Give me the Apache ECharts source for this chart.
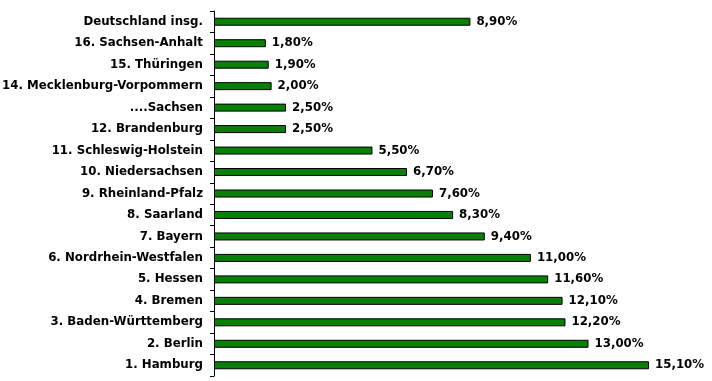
<!DOCTYPE html>
<html><head><meta charset="utf-8">
<script src="https://cdn.jsdelivr.net/npm/echarts@6/dist/echarts.min.js"></script>
<style>html,body{margin:0;padding:0;background:#fff}#c{width:712px;height:381px}</style>
</head><body><div id="c"></div>
<script>
const categories = ["Deutschland insg.","16. Sachsen-Anhalt","15. Thüringen","14. Mecklenburg-Vorpommern","....Sachsen","12. Brandenburg","11. Schleswig-Holstein","10. Niedersachsen","9. Rheinland-Pfalz","8. Saarland","7. Bayern","6. Nordrhein-Westfalen","5. Hessen","4. Bremen","3. Baden-Württemberg","2. Berlin","1. Hamburg"];
const values = [8.9,1.8,1.9,2.0,2.5,2.5,5.5,6.7,7.6,8.3,9.4,11.0,11.6,12.1,12.2,13.0,15.1];
const chart = echarts.init(document.getElementById('c'), null, {renderer:'canvas'});
const font = "DejaVu Sans";
chart.setOption({
  animation:false,
  grid:{left:214,top:11,bottom:5,width:435,containLabel:false,outerBoundsMode:'none'},
  xAxis:{type:'value',min:0,max:15.1,show:false},
  yAxis:{type:'category',data:categories,inverse:true,
    axisLine:{show:true,lineStyle:{color:'#000',width:1}},
    axisTick:{show:true,length:4,lineStyle:{color:'#000'}},
    axisLabel:{color:'#000',fontFamily:font,fontWeight:'bold',fontSize:11.8,margin:11}},
  series:[{type:'bar',data:values,barWidth:8,
    itemStyle:{color:'#088008',borderColor:'#000',borderWidth:1},
    label:{show:true,position:'right',distance:6,color:'#000',fontFamily:font,fontWeight:'bold',fontSize:11.8,
      formatter:p=>p.value.toFixed(2).replace('.',',')+'%'}}]
});
</script></body></html>
